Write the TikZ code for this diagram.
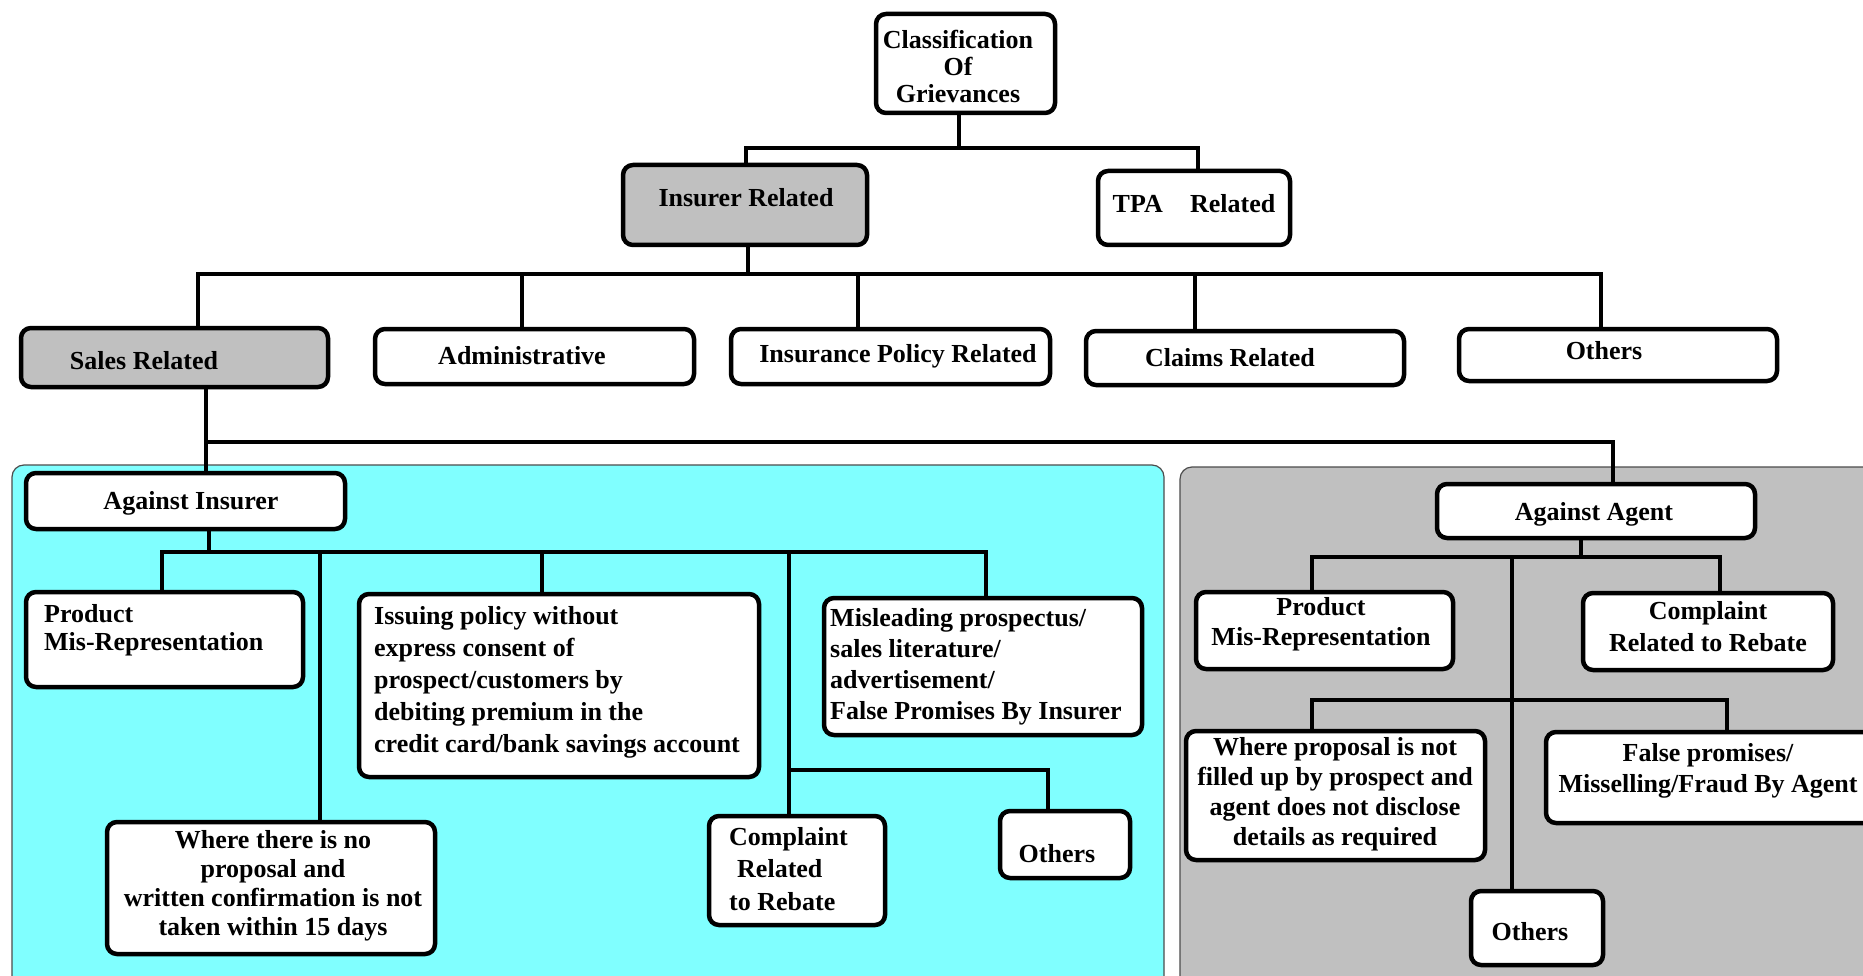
\documentclass[tikz,border=0pt]{standalone}
\usepackage{fontspec}
\setmainfont{Liberation Serif}
\usetikzlibrary{calc}
\definecolor{panelcyan}{RGB}{128,255,255}
\definecolor{panelgray}{RGB}{192,192,192}
\definecolor{boxgray}{RGB}{192,192,192}
\pgfdeclarelayer{panels}
\pgfdeclarelayer{links}
\pgfsetlayers{panels,links,main}
\tikzset{
  box/.style={draw=black, line width=4.5pt, rounded corners=10pt, inner sep=0pt},
  conn/.style={draw=black, line width=4pt, line cap=rect},
  panel/.style={draw=black!70, line width=1.2pt, rounded corners=12pt},
  txt/.style={font=\bfseries\fontsize{26}{31}\selectfont, inner sep=0pt, text=black},
}
% box from corner (x1,y1) to corner (x2,y2), with fill
\newcommand{\gbox}[6]{%
  \node[box, fill=#6, minimum width={(#4-#2)*1pt}, minimum height={(#5-#3)*1pt}]
    (#1) at ({(#2+#4)/2},{(#3+#5)/2}) {};}
\begin{document}
\begin{tikzpicture}[x=1pt, y=-1pt]
\useasboundingbox (0,0) rectangle (1863,976);
\clip (0,0) rectangle (1863,976);

% background panels
\begin{pgfonlayer}{panels}
\fill[white] (0,0) rectangle (1863,976);
\path[panel, fill=panelcyan] (12,465) rectangle (1164,1000);
\path[panel, fill=panelgray] (1180,467) rectangle (1900,1000);
\end{pgfonlayer}

% top level
\gbox{root}{876}{14}{1055}{113}{white}
\gbox{insurer}{623}{165}{867}{245}{boxgray}
\gbox{tpa}{1098}{171}{1290}{245}{white}

% second level
\gbox{sales}{21}{328}{328}{387}{boxgray}
\gbox{admin}{375}{329}{694}{384}{white}
\gbox{ipr}{731}{329}{1050}{384}{white}
\gbox{claims}{1086}{331}{1404}{385}{white}
\gbox{othA}{1459}{329}{1777}{381}{white}

% against insurer branch
\gbox{agins}{26}{473}{345}{529}{white}
\gbox{pmrA}{26}{592}{303}{687}{white}
\gbox{issue}{359}{594}{759}{777}{white}
\gbox{mislead}{824}{598}{1142}{735}{white}
\gbox{noprop}{107}{822}{435}{954}{white}
\gbox{rebA}{709}{816}{885}{925}{white}
\gbox{othB}{1000}{811}{1130}{878}{white}

% against agent branch
\gbox{agagt}{1437}{484}{1755}{538}{white}
\gbox{pmrB}{1196}{592}{1453}{669}{white}
\gbox{rebB}{1583}{593}{1833}{670}{white}
\gbox{notfill}{1186}{731}{1485}{860}{white}
\gbox{falsep}{1546}{732}{1880}{823}{white}
\gbox{othC}{1471}{891}{1603}{965}{white}

% junction points on the bars
\coordinate (b1) at (959,148);
\coordinate (b2) at (748,274);
\coordinate (b3) at (206,442);
\coordinate (b4) at (209,552);
\coordinate (b5) at (789,770);
\coordinate (b6) at (1581,557);
\coordinate (b7) at (1512,700);

% connectors
\begin{pgfonlayer}{links}
\draw[conn] (root.south -| b1) -- (b1);
\draw[conn] (insurer.north -| 746,0) |- (b1) -| (tpa.north -| 1198,0);

\draw[conn] (insurer.south -| b2) -- (b2);
\draw[conn] (sales.north -| 198,0) |- (b2) -| (othA.north -| 1601,0);
\draw[conn] (522,274) -- (admin.north -| 522,0);
\draw[conn] (858,274) -- (ipr.north -| 858,0);
\draw[conn] (1195,274) -- (claims.north -| 1195,0);

\draw[conn] (sales.south -| b3) -- (agins.north -| b3);
\draw[conn] (b3) -| (agagt.north -| 1613,0);

\draw[conn] (agins.south -| b4) -- (b4);
\draw[conn] (pmrA.north -| 162,0) |- (b4) -| (mislead.north -| 986,0);
\draw[conn] (320,552) -- (noprop.north -| 320,0);
\draw[conn] (542,552) -- (issue.north -| 542,0);
\draw[conn] (789,552) -- (rebA.north -| b5);
\draw[conn] (b5) -| (othB.north -| 1048,0);

\draw[conn] (agagt.south -| b6) -- (b6);
\draw[conn] (pmrB.north -| 1312,0) |- (b6) -| (rebB.north -| 1720,0);
\draw[conn] (1512,557) -- (othC.north -| b7);
\draw[conn] (notfill.north -| 1312,0) |- (b7) -| (falsep.north -| 1727,0);
\end{pgfonlayer}

% labels
\node[txt, align=center, font=\bfseries\fontsize{26}{27}\selectfont] (t-root) at (958,66) {Classification\\Of\\Grievances};
\node[txt] (t-insurer) at (746,198) {Insurer Related};
\node[txt] (t-tpa) at (1194,204) {TPA\hspace{0.8em} Related};
\node[txt] (t-sales) at (144,361) {Sales Related};
\node[txt] (t-admin) at (522,356) {Administrative};
\node[txt] (t-ipr) at (898,356) {Insurance Policy Related};
\node[txt] (t-claims) at (1230,358) {Claims Related};
\node[txt] (t-othA) at (1604,351) {Others};
\node[txt] (t-agins) at (191,503) {Against Insurer};
\node[txt, anchor=west, align=left, font=\bfseries\fontsize{26}{28}\selectfont] (t-pmrA) at (44,630) {Product\\Mis-Representation};
\node[txt, anchor=west, align=left, font=\bfseries\fontsize{26}{32}\selectfont] (t-issue) at (374,682) {Issuing policy without\\express consent of\\prospect/customers by\\debiting premium in the\\credit card/bank savings account};
\node[txt, anchor=west, align=left, font=\bfseries\fontsize{26}{31}\selectfont] (t-mislead) at (830,667) {Misleading prospectus/\\sales literature/\\advertisement/\\False Promises By Insurer};
\node[txt, align=center, font=\bfseries\fontsize{26}{29}\selectfont] (t-noprop) at (273,886) {Where there is no\\proposal and\\written confirmation is not\\taken within 15 days};
\node[txt, anchor=west, align=left, font=\bfseries\fontsize{26}{32.5}\selectfont] (t-rebA) at (729,869) {Complaint\\\hspace*{8pt}Related\\to Rebate};
\node[txt] (t-othB) at (1057,854) {Others};
\node[txt] (t-agagt) at (1594,514) {Against Agent};
\node[txt, align=center, font=\bfseries\fontsize{26}{30}\selectfont] (t-pmrB) at (1321,624) {Product\\Mis-Representation};
\node[txt, align=center, font=\bfseries\fontsize{26}{32}\selectfont] (t-rebB) at (1708,627) {Complaint\\Related to Rebate};
\node[txt, align=center, font=\bfseries\fontsize{26}{30}\selectfont] (t-notfill) at (1335,794) {Where proposal is not\\filled up by prospect and\\agent does not disclose\\details as required};
\node[txt, align=center, font=\bfseries\fontsize{26}{31}\selectfont] (t-falsep) at (1708,771) {False promises/\\Misselling/Fraud By Agent};
\node[txt] (t-othC) at (1530,932) {Others};
\end{tikzpicture}
\end{document}
